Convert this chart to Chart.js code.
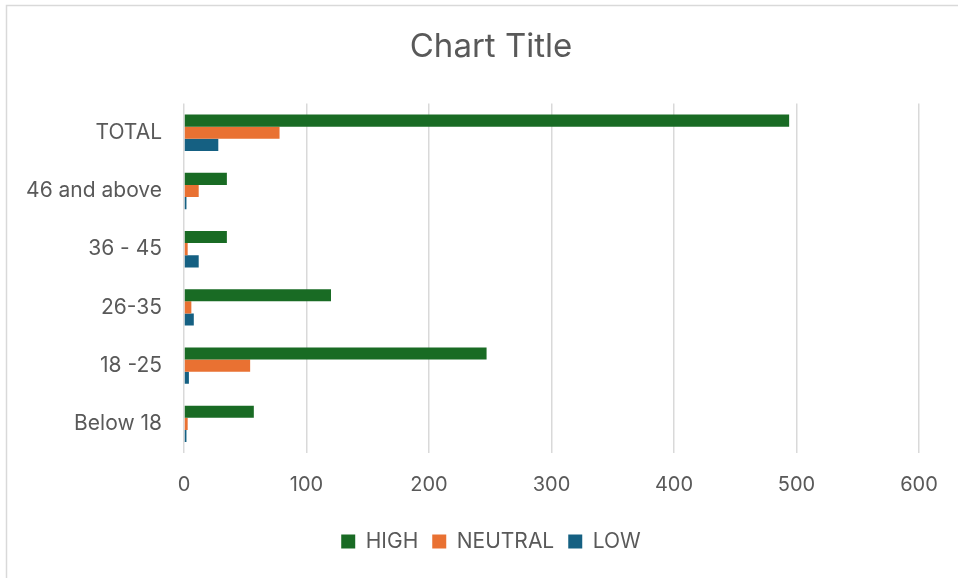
<!DOCTYPE html>
<html>
<head>
<meta charset="utf-8">
<script src="https://cdn.jsdelivr.net/npm/chart.js@4/dist/chart.umd.min.js"></script>
<style>
  html, body { margin: 0; padding: 0; background: #ffffff; }
  #wrap { position: relative; width: 958px; height: 578px; }
</style>
</head>
<body>
<div id="wrap"><canvas id="c" width="958" height="578"></canvas></div>
<script>
const categories = ['TOTAL', '46 and above', '36 - 45', '26-35', '18 -25', 'Below 18'];
const highValues = [494, 35, 35, 120, 247, 57];
const neutralValues = [78, 12, 3, 6, 54, 3];
const lowValues = [28, 2, 12, 8, 4, 2];
const seriesNames = ['HIGH', 'NEUTRAL', 'LOW'];
const xTicks = [0, 100, 200, 300, 400, 500, 600];

const FONT = 'Inter, "Open Sans", "Liberation Sans", sans-serif';
const TEXT = '#595959';

const framePlugin = {
  id: 'frame',
  beforeDraw(chart) {
    const ctx = chart.ctx;
    ctx.save();
    ctx.fillStyle = '#ffffff';
    ctx.fillRect(0, 0, chart.width, chart.height);
    ctx.strokeStyle = '#d9d9d9';
    ctx.lineWidth = 1.5;
    ctx.beginPath();
    ctx.moveTo(6.5, chart.height);
    ctx.lineTo(6.5, 5.5);
    ctx.lineTo(chart.width, 5.5);
    ctx.stroke();
    ctx.restore();
  }
};

new Chart(document.getElementById('c'), {
  type: 'bar',
  data: {
    labels: categories,
    datasets: [
      { label: seriesNames[0], data: highValues, backgroundColor: '#196B24' },
      { label: seriesNames[1], data: neutralValues, backgroundColor: '#E97132' },
      { label: seriesNames[2], data: lowValues, backgroundColor: '#156082' }
    ]
  },
  options: {
    indexAxis: 'y',
    responsive: false,
    animation: false,
    devicePixelRatio: 1,
    datasets: { bar: { categoryPercentage: 0.625, barPercentage: 1.0 } },
    layout: { padding: { left: 24, right: 0, top: 0, bottom: 16 } },
    plugins: {
      title: {
        display: true,
        text: 'Chart Title',
        color: TEXT,
        font: { family: FONT, size: 33, weight: 'normal' },
        padding: { top: 27, bottom: 37 }
      },
      legend: {
        display: true,
        position: 'bottom',
        labels: {
          color: TEXT,
          font: { family: FONT, size: 21 },
          boxWidth: 14,
          boxHeight: 14,
          padding: 14
        }
      },
      tooltip: { enabled: false }
    },
    scales: {
      x: {
        type: 'linear',
        min: 0,
        max: 600,
        afterBuildTicks(scale) { scale.ticks = xTicks.map(v => ({ value: v })); },
        afterFit(scale) { scale.height = 64; scale.paddingRight = 39; },
        grid: { color: '#d9d9d9', lineWidth: 1.5, drawTicks: false },
        border: { display: false },
        ticks: { color: TEXT, font: { family: FONT, size: 20 }, padding: 20 }
      },
      y: {
        type: 'category',
        afterFit(scale) { scale.width = 160; },
        grid: { display: false, drawTicks: false },
        border: { display: false },
        ticks: { color: TEXT, font: { family: FONT, size: 21 }, padding: 22 }
      }
    }
  },
  plugins: [framePlugin]
});
</script>
</body>
</html>
